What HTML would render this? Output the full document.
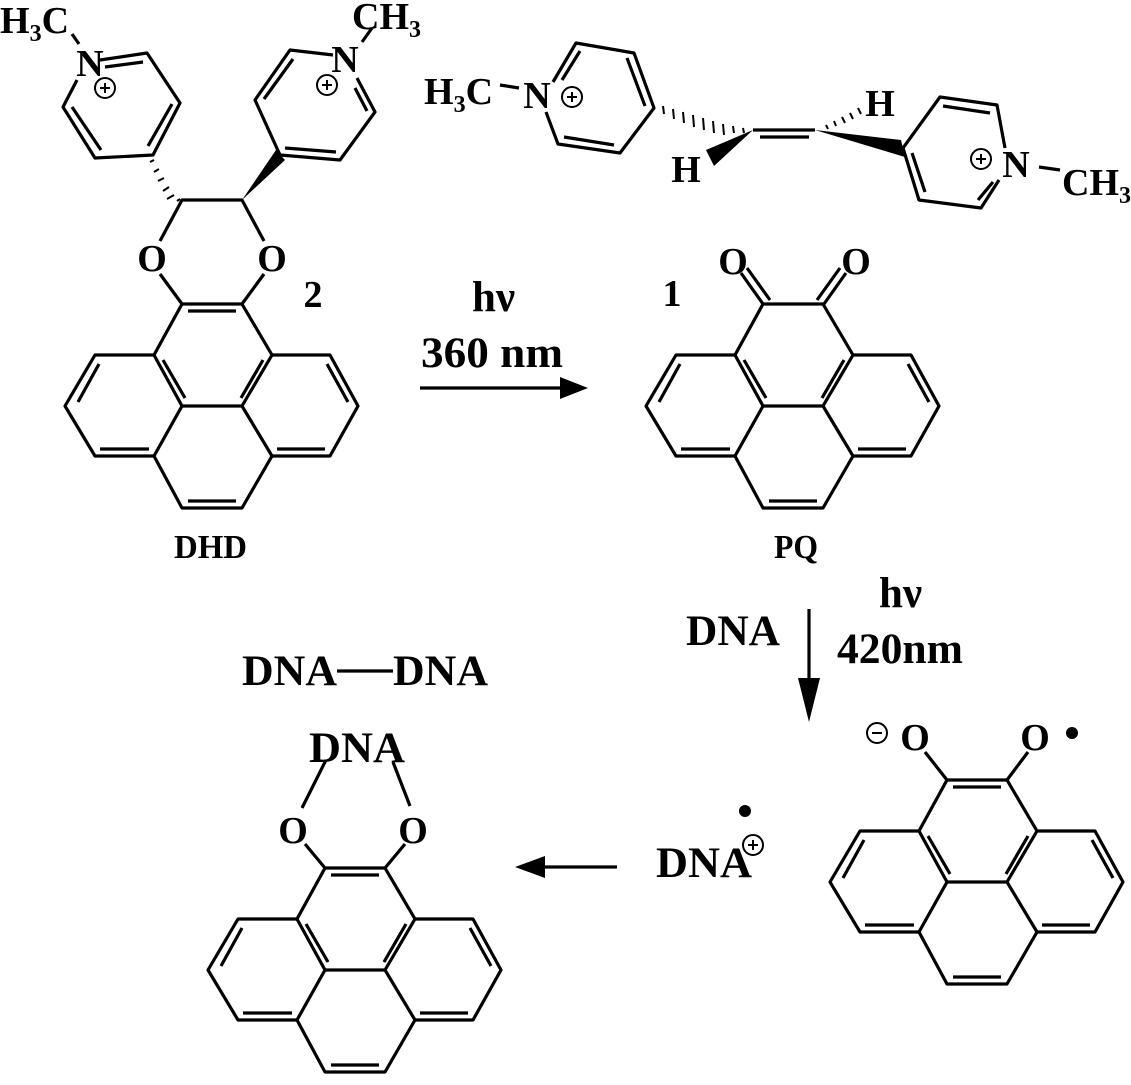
<!DOCTYPE html>
<html><head><meta charset="utf-8"><style>
html,body{margin:0;padding:0;background:#fff;}
svg{display:block;}
text{font-family:"Liberation Serif",serif;font-weight:bold;fill:#000;}
</style></head><body>
<svg width="1131" height="1085" viewBox="0 0 1131 1085" xmlns="http://www.w3.org/2000/svg">
<defs>
<g id="pyr" fill="none" stroke="#000" stroke-width="3.2" stroke-linejoin="round">
<path d="M0,0 L-28,51 L0,102 L60,102 L90,51 L60,0 Z"/>
<path d="M-28,51 L-87,51 L-117,102 L-87,152 L-28,152 L0,102"/>
<path d="M90,51 L148,51 L176,102 L148,152 L90,152 L60,102"/>
<path d="M-28,152 L0,204 L60,204 L90,152"/>
<path d="M-19,56 L3,94 M81,56 L59,94 M-83,60 L-104,98 M-82,145 L-33,145 M145,60 L166,98 M95,145 L143,145 M6,197 L54,197"/>
</g>
</defs>
<g fill="none" stroke="#000" stroke-width="3.2" stroke-linejoin="round">
<use href="#pyr" x="182" y="304"/>
<path d="M188,311 L236,311"/>
<path d="M182,304 L160,274 M242,304 L264,274 M160,241 L182,200 L242,200 L264,241"/>
<path d="M100,60 L147,53 L180,103 L153,155 L95,158 L63,107 L77,80"/>
<path d="M105,67 L143,62 M172,104 L148,146 M101,150 L72,107"/>
<path d="M72,34 L79,44"/>
<path d="M280,155 L255,100 L290,50 L333,55 M357,78 L375,112 L340,160 L280,155"/>
<path d="M264,99 L293,59 M355,88 L367,111 M336,152 L285,148"/>
<path d="M362,42 L372,28"/>
<use href="#pyr" x="763" y="304"/>
<path d="M763,304 L741,273 M770,300 L747,268 M824,304 L846,273 M817,300 L840,268"/>
<use href="#pyr" x="947" y="780"/>
<path d="M953,787 L1001,787 M947,780 L925,752 M1007,780 L1028,752"/>
<use href="#pyr" x="325" y="868"/>
<path d="M331,875 L379,875 M325,868 L305,844 M385,868 L405,844 M302,808 L326,760 M410,806 L393,762"/>
<path d="M337,671 L393,671"/>
<path d="M553,82 L576,43 L634,53 L654,108 L620,153 L558,144 L546,112"/>
<path d="M562,80 L580,51 M627,58 L645,106 M614,145 L564,137"/>
<path d="M500,85 L519,88"/>
<path d="M753,130 L815,130 M760,137 L809,137"/>
<path d="M903,148 L940,97 L997,105 L1005,148 M999,180 L981,208 L919,200 L903,148"/>
<path d="M943,106 L990,113 M993,182 L978,200 M925,192 L912,153"/>
<path d="M1039,167 L1060,170"/>
<path d="M420,388 L565,388 M809,609 L809,700 M617,867 L535,867"/>
</g>
<g fill="#000" stroke="none">
<g stroke="#000" stroke-width="2">
<path d="M154,160 l-4,2 M159,169 l-5,3 M164,178 l-6,3 M169,187 l-6,4 M174,195 l-7,4 M180,199 l-3,2"/>
<path d="M663,106 l1,8 M673,109 l1,10 M683,112 l1,11 M693,115 l1,12 M703,118 l1,12 M713,121 l1,12 M723,124 l1,11 M733,126 l1,7 M743,128 l1,5"/>
<path d="M858,108 l3,6 M850,113 l3,6 M842,117 l3,6 M834,121 l2,5 M826,125 l2,4"/>
</g>
<polygon points="242,200 276,150 285,160"/>
<polygon points="753,130 706,150 714,166"/>
<polygon points="815,130 901,140 905,157"/>
<polygon points="588,388 560,377 560,399"/>
<polygon points="809,722 798,678 820,678"/>
<polygon points="515,867 545,856 545,878"/>
<circle cx="1072" cy="733" r="6"/>
<circle cx="745" cy="811" r="6"/>
</g>
<g fill="none" stroke="#000" stroke-width="2">
<circle cx="105" cy="88" r="10"/><path d="M100,88 h10 M105,83 v10"/>
<circle cx="327" cy="85" r="10"/><path d="M322,85 h10 M327,80 v10"/>
<circle cx="572" cy="97" r="10"/><path d="M567,97 h10 M572,92 v10"/>
<circle cx="981" cy="159" r="10"/><path d="M976,159 h10 M981,154 v10"/>
<circle cx="877" cy="733" r="10"/><path d="M872,733 h10"/>
<circle cx="753" cy="845" r="10"/><path d="M748,845 h10 M753,840 v10"/>
</g>
<g font-size="38">
<text x="0" y="33">H<tspan font-size="24" dy="8">3</tspan><tspan dy="-8">C</tspan></text>
<text x="90" y="76" text-anchor="middle">N</text>
<text x="352" y="29">CH<tspan font-size="24" dy="8">3</tspan></text>
<text x="345" y="72" text-anchor="middle">N</text>
<text x="152" y="271" text-anchor="middle">O</text>
<text x="272" y="271" text-anchor="middle">O</text>
<text x="313" y="307" text-anchor="middle">2</text>
<text x="424" y="104">H<tspan font-size="24" dy="8">3</tspan><tspan dy="-8">C</tspan></text>
<text x="537" y="108" text-anchor="middle">N</text>
<text x="880" y="116" text-anchor="middle">H</text>
<text x="686" y="182" text-anchor="middle">H</text>
<text x="1016" y="177" text-anchor="middle">N</text>
<text x="1062" y="195">CH<tspan font-size="24" dy="8">3</tspan></text>
<text x="733" y="274" text-anchor="middle">O</text>
<text x="856" y="274" text-anchor="middle">O</text>
<text x="672" y="306" text-anchor="middle">1</text>
<text x="915" y="750" text-anchor="middle">O</text>
<text x="1035" y="750" text-anchor="middle">O</text>
<text x="293" y="843" text-anchor="middle">O</text>
<text x="413" y="843" text-anchor="middle">O</text>
</g>
<g font-size="43">
<text x="472" y="311">hν</text>
<text x="421" y="367" textLength="142" lengthAdjust="spacingAndGlyphs">360 nm</text>
<text x="879" y="607">hν</text>
<text x="837" y="663" textLength="126" lengthAdjust="spacingAndGlyphs">420nm</text>
<text x="686" y="645" textLength="94" lengthAdjust="spacingAndGlyphs">DNA</text>
<text x="656" y="877" textLength="96" lengthAdjust="spacingAndGlyphs">DNA</text>
<text x="242" y="685" textLength="95" lengthAdjust="spacingAndGlyphs">DNA</text>
<text x="393" y="685" textLength="95" lengthAdjust="spacingAndGlyphs">DNA</text>
<text x="309" y="762" textLength="96" lengthAdjust="spacingAndGlyphs">DNA</text>
</g>
<g font-size="34">
<text x="174" y="558" textLength="73" lengthAdjust="spacingAndGlyphs">DHD</text>
<text x="774" y="558" textLength="44" lengthAdjust="spacingAndGlyphs">PQ</text>
</g>
</svg>
</body></html>
